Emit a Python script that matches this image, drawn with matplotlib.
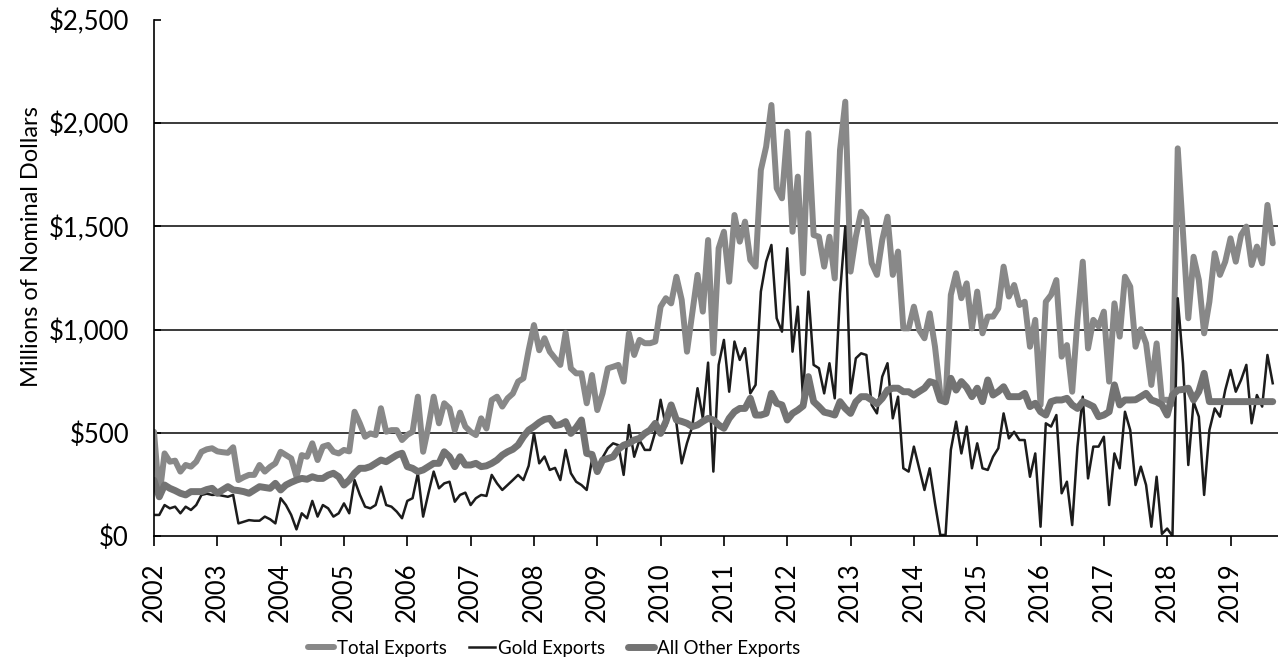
import numpy as np
import matplotlib
matplotlib.use("Agg")
import matplotlib.pyplot as plt
from matplotlib.ticker import FuncFormatter

# monthly values, Jan 2002 - Sep 2019, millions of nominal dollars
total_exports = [
    505, 190, 400, 360, 365, 312, 344, 336, 360, 408, 420, 425,
    410, 406, 403, 430, 271, 285, 296, 296, 344, 312, 335, 352,
    408, 392, 376, 287, 392, 384, 449, 368, 433, 441, 408, 400,
    417, 410, 602, 546, 481, 497, 489, 619, 505, 513, 513, 465,
    490, 505, 675, 408, 530, 675, 546, 643, 619, 513, 598, 530,
    505, 489, 570, 521, 659, 675, 627, 667, 690, 748, 764, 901,
    1022, 900, 958, 893, 861, 829, 985, 812, 788, 788, 643, 780,
    610, 691, 812, 820, 829, 748, 982, 877, 950, 934, 934, 942,
    1111, 1152, 1127, 1256, 1144, 893, 1079, 1265, 1087, 1434, 885, 1394,
    1474, 1232, 1555, 1426, 1523, 1337, 1305, 1773, 1886, 2088, 1685, 1636,
    1959, 1474, 1741, 1273, 1951, 1458, 1450, 1305, 1450, 1248, 1870, 2104,
    1281, 1450, 1571, 1539, 1321, 1265, 1434, 1547, 1265, 1378, 1006, 1006,
    1111, 998, 958, 1079, 917, 691, 650, 1168, 1273, 1152, 1224, 1006,
    1184, 982, 1063, 1063, 1103, 1305, 1160, 1216, 1119, 1135, 917, 1047,
    635, 1135, 1168, 1240, 869, 925, 699, 1050, 1329, 909, 1047, 1015,
    1087, 748, 1127, 966, 1256, 1208, 917, 1002, 933, 732, 933, 659,
    660, 640, 1878, 1466, 1055, 1353, 1240, 982, 1135, 1370, 1265, 1329,
    1442, 1329, 1458, 1499, 1313, 1402, 1321, 1604, 1418,
]

gold_exports = [
    102, 102, 150, 134, 142, 110, 142, 126, 150, 199, 205, 199,
    200, 195, 190, 199, 61, 69, 77, 74, 74, 94, 81, 61,
    183, 150, 102, 32, 110, 86, 170, 94, 150, 134, 94, 110,
    158, 110, 271, 200, 142, 134, 150, 239, 150, 142, 118, 86,
    170, 183, 304, 94, 207, 312, 231, 255, 263, 166, 199, 210,
    150, 183, 199, 194, 296, 255, 223, 247, 271, 296, 271, 340,
    497, 352, 385, 320, 330, 271, 417, 304, 263, 247, 223, 370,
    330, 380, 425, 449, 440, 296, 538, 384, 465, 417, 417, 505,
    660, 530, 610, 546, 352, 450, 530, 716, 570, 840, 312, 829,
    950, 699, 942, 853, 910, 691, 732, 1184, 1329, 1410, 1055, 990,
    1394, 893, 1111, 659, 1184, 829, 813, 691, 837, 667, 1176, 1499,
    691, 861, 885, 877, 635, 594, 772, 837, 570, 675, 328, 312,
    433, 328, 223, 328, 158, 5, 5, 417, 554, 400, 530, 328,
    449, 328, 320, 384, 425, 594, 473, 505, 465, 465, 287, 400,
    45, 546, 530, 586, 207, 263, 53, 433, 675, 279, 433, 433,
    481, 150, 400, 328, 602, 513, 247, 336, 247, 45, 287, 10,
    36, 0, 1152, 837, 344, 651, 578, 199, 513, 618, 578, 707,
    804, 699, 756, 829, 546, 683, 627, 877, 740,
]

other_exports = [
    270, 190, 247, 231, 220, 207, 199, 215, 215, 215, 225, 231,
    207, 223, 239, 223, 220, 215, 207, 223, 239, 235, 231, 255,
    223, 247, 260, 271, 279, 275, 287, 279, 279, 295, 304, 287,
    247, 271, 304, 328, 328, 336, 352, 368, 360, 376, 392, 401,
    336, 328, 312, 320, 336, 352, 352, 408, 384, 336, 384, 344,
    344, 352, 336, 340, 352, 368, 392, 408, 420, 441, 481, 513,
    530, 550, 565, 570, 535, 540, 554, 497, 525, 562, 400, 395,
    312, 368, 375, 384, 420, 440, 449, 465, 473, 497, 513, 546,
    497, 554, 635, 562, 555, 546, 530, 538, 555, 570, 562, 538,
    522, 570, 602, 618, 618, 667, 586, 586, 594, 691, 643, 635,
    562, 594, 610, 630, 772, 651, 627, 600, 594, 586, 651, 618,
    594, 650, 675, 675, 659, 640, 667, 707, 716, 716, 699, 699,
    683, 700, 716, 748, 740, 659, 650, 764, 707, 748, 720, 675,
    716, 651, 756, 683, 700, 723, 675, 675, 675, 691, 627, 643,
    602, 586, 651, 659, 659, 667, 635, 618, 651, 640, 627, 578,
    586, 602, 732, 635, 659, 659, 660, 675, 691, 659, 650, 635,
    586, 683, 707, 710, 716, 659, 700, 788, 651, 651, 651, 651,
    651, 651, 651, 651, 651, 651, 651, 651, 651,
]

years = list(range(2002, 2020))

plt.rcParams['font.family'] = ['Lato', 'DejaVu Sans']

fig = plt.figure(figsize=(12.78, 6.66), dpi=100)
ax = fig.add_axes([0.1205, 0.1952, 0.8795, 0.7748])

months = np.arange(len(total_exports))

# gridlines (no line at the top value)
for yv in [500, 1000, 1500, 2000]:
    ax.axhline(yv, color='#2b2b2b', lw=1.3, zorder=1)

ax.plot(months, total_exports, color='#888888', lw=4.3, solid_joinstyle='round',
        solid_capstyle='round', label='Total Exports', zorder=2)
ax.plot(months, gold_exports, color='#1c1c1c', lw=1.8, label='Gold Exports', zorder=3)
ax.plot(months, other_exports, color='#737373', lw=5.0, solid_joinstyle='round',
        solid_capstyle='round', label='All Other Exports', zorder=4)

ax.set_xlim(0, 213)
ax.set_ylim(0, 2500)

ax.set_xticks([12 * (y - 2002) for y in years])
ax.set_xticklabels([str(y) for y in years], rotation=90)
ax.tick_params(axis='x', direction='out', length=7, width=1.2, pad=12, labelsize=18.5)

ax.set_yticks([0, 500, 1000, 1500, 2000, 2500])
ax.yaxis.set_major_formatter(FuncFormatter(lambda v, p: f"${v:,.0f}"))
ax.tick_params(axis='y', direction='in', length=5, width=1.2, pad=18, labelsize=18.5)

for s in ['top', 'right']:
    ax.spines[s].set_visible(False)
ax.spines['left'].set_linewidth(1.2)
ax.spines['bottom'].set_linewidth(1.2)
ax.spines['left'].set_zorder(5)
ax.spines['bottom'].set_zorder(5)

ax.set_ylabel('Millions of Nominal Dollars', fontsize=17)
ax.yaxis.set_label_coords(-0.10, 0.56)

fig.legend(loc='center', bbox_to_anchor=(0.4335, 0.027), ncol=3, frameon=False,
           fontsize=13.5, handlelength=1.4, handletextpad=0.15, columnspacing=1.2)

fig.savefig('out.png', dpi=100)
